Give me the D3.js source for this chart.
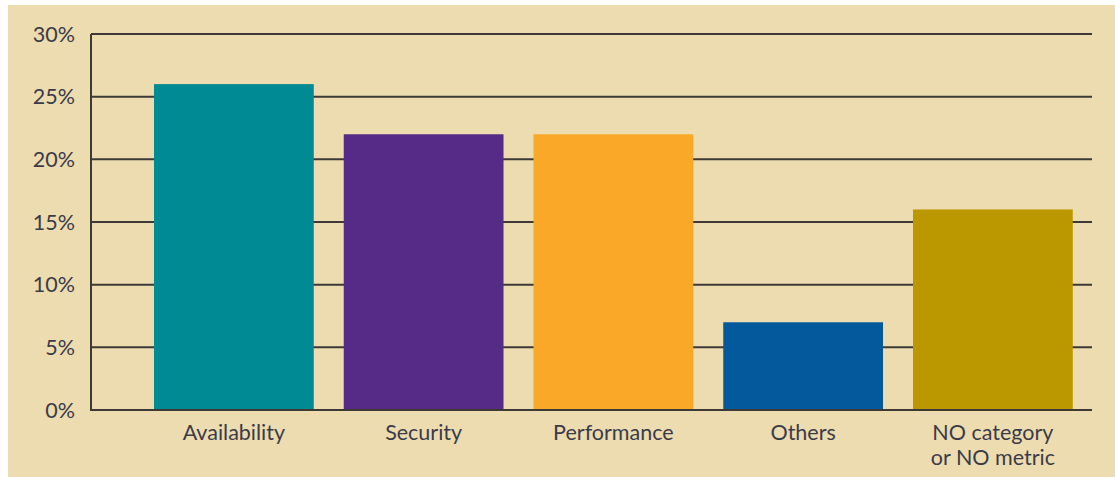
<!DOCTYPE html>
<html><head><meta charset="utf-8">
<script src="https://cdn.jsdelivr.net/npm/d3@7"></script>
<style>
html,body{margin:0;padding:0;background:#fff;}
svg{display:block;}
</style></head>
<body>
<svg id="chart" width="1115" height="477"></svg>
<script>
const categories = ["Availability", "Security", "Performance", "Others", "NO category\nor NO metric"];
const values = [26, 22, 22, 7, 16];
const colors = ["#008a94", "#562a87", "#f9a828", "#03599c", "#bb9800"];
const yTicks = [0, 5, 10, 15, 20, 25, 30];

const svg = d3.select("#chart");
svg.append("rect").attr("x", 8).attr("y", 5).attr("width", 1107).attr("height", 472).attr("fill", "#eddcb0");

const x0 = 91, x1 = 1092;
const y = d3.scaleLinear().domain([0, 30]).range([410, 34]);
const x = d3.scaleBand().domain(categories).range([139, 1087.75]).paddingInner(0.158).paddingOuter(0.079);

const font = "Lato, 'Open Sans', sans-serif";
const textColor = "#3b3b48";

// gridlines
svg.append("g").selectAll("line").data(yTicks).join("line")
  .attr("x1", x0).attr("x2", x1)
  .attr("y1", d => y(d)).attr("y2", d => y(d))
  .attr("stroke", "#3d3a35").attr("stroke-width", 2);

// bars
svg.append("g").selectAll("rect").data(values).join("rect")
  .attr("x", (d, i) => x(categories[i]))
  .attr("width", x.bandwidth())
  .attr("y", d => y(d))
  .attr("height", d => y(0) - y(d) - 1)
  .attr("fill", (d, i) => colors[i]);

// axis line
svg.append("line").attr("x1", x0).attr("x2", x0).attr("y1", y(30)).attr("y2", y(0) + 1)
  .attr("stroke", "#3d3a35").attr("stroke-width", 2);
svg.append("line").attr("x1", x0 - 1).attr("x2", x1).attr("y1", y(0)).attr("y2", y(0))
  .attr("stroke", "#3d3a35").attr("stroke-width", 2);

// y labels
svg.append("g").selectAll("text").data(yTicks).join("text")
  .attr("x", 75).attr("y", d => y(d)).attr("dy", "0.35em")
  .attr("text-anchor", "end")
  .attr("font-family", font).attr("font-size", 21.5).attr("fill", textColor)
  .text(d => d + "%");

// x labels
const xl = svg.append("g").selectAll("text").data(categories).join("text")
  .attr("x", d => x(d) + x.bandwidth() / 2).attr("y", 440)
  .attr("text-anchor", "middle")
  .attr("font-family", font).attr("font-size", 21.5).attr("fill", textColor);
xl.selectAll("tspan").data(d => d.split("\n")).join("tspan")
  .attr("x", function() { return d3.select(this.parentNode).attr("x"); })
  .attr("dy", (d, i) => i === 0 ? 0 : 25)
  .text(d => d);
</script>
</body></html>
